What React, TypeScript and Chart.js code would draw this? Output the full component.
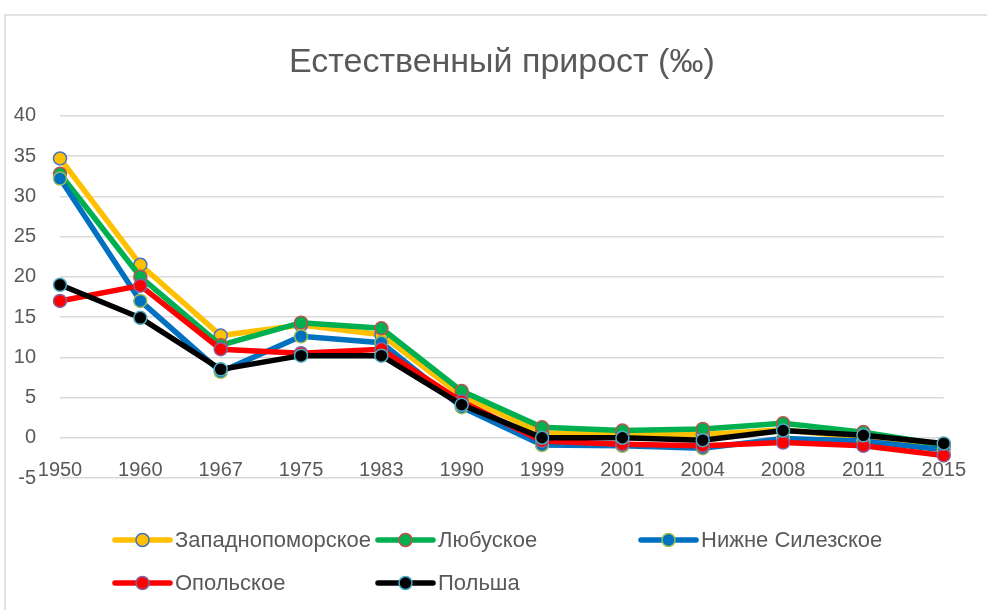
import React, { useEffect, useRef } from "react";
import { Chart, registerables } from "chart.js";

Chart.register(...registerables);

const categories = ["1950", "1960", "1967", "1975", "1983", "1990", "1999", "2001", "2004", "2008", "2011", "2015"];

const seriesNames = ["Западнопоморское", "Любуское", "Нижне Силезское", "Опольское", "Польша"];

const zachodniopomorskie = [34.7, 21.5, 12.7, 14.0, 12.8, 5.2, 0.6, 0.5, 0.4, 1.0, 0.0, -1.2];
const lubuskie = [32.8, 20.0, 11.5, 14.3, 13.6, 5.8, 1.3, 0.9, 1.1, 1.8, 0.7, -0.9];
const dolnoslaskie = [32.2, 17.0, 8.2, 12.6, 11.8, 3.8, -0.9, -1.0, -1.3, -0.1, -0.4, -1.5];
const opolskie = [17.0, 18.9, 11.0, 10.5, 11.0, 4.5, -0.4, -0.8, -1.0, -0.6, -1.0, -2.2];
const polska = [19.0, 14.9, 8.5, 10.2, 10.2, 4.1, 0.0, 0.0, -0.3, 0.9, 0.3, -0.7];

const yMin = -5;
const yMax = 40;
const yStep = 5;

const titleText = "Естественный прирост (‰)";

const lineColors = ["#FFC000", "#00B050", "#0070C0", "#FF0000", "#000000"];
const markerBorders = ["#4472C4", "#C0504D", "#9BBB59", "#8064A2", "#4BACC6"];

const FONT = "'Liberation Sans', Arial, sans-serif";
const TEXT = "#595959";
const GRID = "#d9d9d9";

const frame = {
  id: "frame",
  beforeDraw(chart: any) {
    const { ctx, width, height } = chart;
    ctx.save();
    ctx.fillStyle = "#ffffff";
    ctx.fillRect(0, 0, width, height);
    ctx.strokeStyle = GRID;
    ctx.lineWidth = 1.5;
    ctx.beginPath();
    ctx.moveTo(5, height);
    ctx.lineTo(5, 15);
    ctx.lineTo(width, 15);
    ctx.stroke();
    ctx.restore();
  },
};

const columnLegend = {
  id: "columnLegend",
  afterDraw(chart: any) {
    const ctx = chart.ctx;
    const o = chart.options.plugins.columnLegend;
    ctx.save();
    chart.data.datasets.forEach((ds: any, i: number) => {
      const col = i % o.columns;
      const row = Math.floor(i / o.columns);
      const x0 = o.left + col * o.colWidth;
      const y = o.top + row * o.rowHeight;
      ctx.strokeStyle = ds.borderColor;
      ctx.lineWidth = ds.borderWidth;
      ctx.lineCap = "round";
      ctx.beginPath();
      ctx.moveTo(x0, y);
      ctx.lineTo(x0 + o.symbolWidth, y);
      ctx.stroke();
      ctx.beginPath();
      ctx.arc(x0 + o.symbolWidth / 2, y, ds.pointRadius, 0, Math.PI * 2);
      ctx.fillStyle = ds.pointBackgroundColor;
      ctx.fill();
      ctx.lineWidth = ds.pointBorderWidth;
      ctx.strokeStyle = ds.pointBorderColor;
      ctx.stroke();
      ctx.fillStyle = TEXT;
      ctx.font = o.font;
      ctx.textBaseline = "middle";
      ctx.textAlign = "left";
      ctx.fillText(ds.label, x0 + o.symbolWidth + 5, y + 1);
    });
    ctx.restore();
  },
};

export default function App() {
  const ref = useRef<HTMLCanvasElement | null>(null);

  useEffect(() => {
    if (!ref.current) return;
    const values = [zachodniopomorskie, lubuskie, dolnoslaskie, opolskie, polska];
    const chart = new Chart(ref.current, {
      type: "line",
      data: {
        labels: categories,
        datasets: values.map((v, i) => ({
          label: seriesNames[i],
          data: v,
          borderColor: lineColors[i],
          backgroundColor: lineColors[i],
          borderWidth: 5.5,
          pointRadius: 6.5,
          pointBorderWidth: 1.5,
          pointBackgroundColor: lineColors[i],
          pointBorderColor: markerBorders[i],
          tension: 0,
          order: values.length - i,
        })),
      },
      options: {
        responsive: false,
        animation: false,
        layout: { padding: { top: 15, left: 0, right: 32, bottom: 132 } },
        scales: {
          x: {
            type: "category",
            offset: false,
            position: { y: 0 } as any,
            afterFit: (s: any) => {
              s.height = 0;
            },
            grid: { display: false, drawTicks: false },
            border: { display: false },
            ticks: {
              color: TEXT,
              font: { family: FONT, size: 20 },
              padding: 21,
              maxRotation: 0,
              autoSkip: false,
            },
          },
          y: {
            min: yMin,
            max: yMax,
            afterFit: (s: any) => {
              s.width = 60;
            },
            grid: { color: GRID, lineWidth: 1.5, drawTicks: false },
            border: { display: false },
            ticks: {
              stepSize: yStep,
              color: TEXT,
              font: { family: FONT, size: 20 },
              padding: 24,
            },
          },
        },
        plugins: {
          legend: { display: false },
          tooltip: { enabled: false },
          title: {
            display: true,
            fullSize: false,
            text: titleText,
            color: TEXT,
            font: { family: FONT, size: 34, weight: "normal" },
            padding: { top: 27, bottom: 33 },
          },
          columnLegend: {
            left: 115,
            top: 540,
            colWidth: 263,
            rowHeight: 43,
            columns: 3,
            symbolWidth: 55,
            font: `22px ${FONT}`,
          },
        } as any,
      },
      plugins: [frame, columnLegend],
    });
    return () => chart.destroy();
  }, []);

  return (
    <div style={{ position: "absolute", left: 0, top: 0, width: 987, height: 610, background: "#fff" }}>
      <canvas ref={ref} width={987} height={610} style={{ width: 987, height: 610, display: "block" }} />
    </div>
  );
}
